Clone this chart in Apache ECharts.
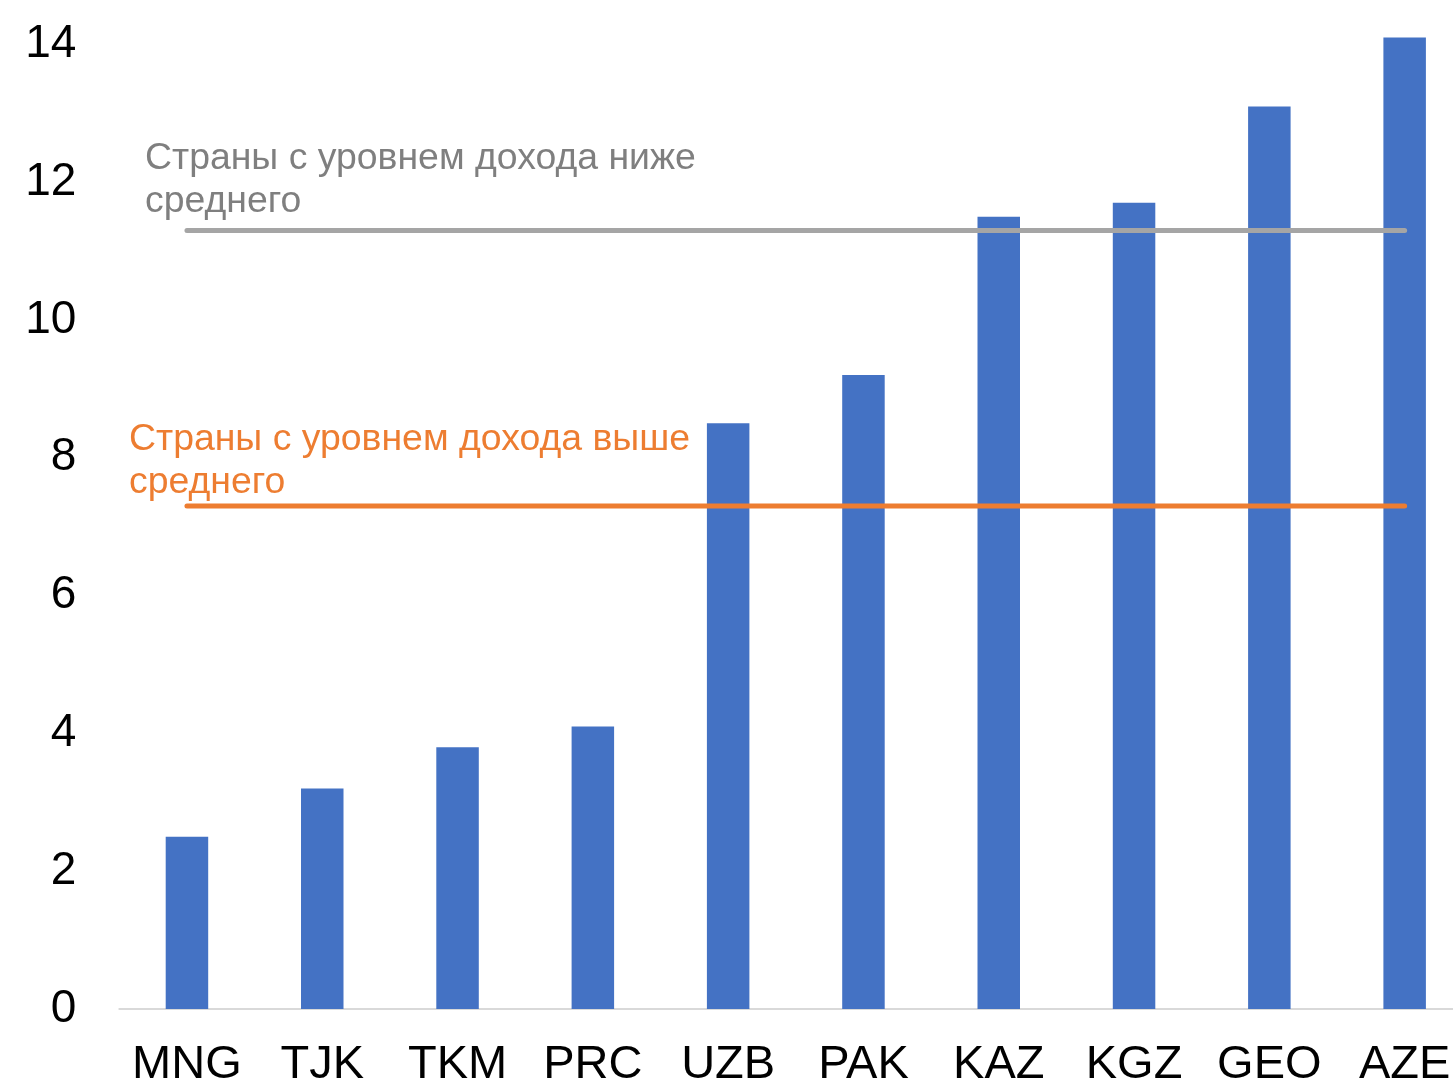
<!DOCTYPE html>
<html>
<head>
<meta charset="utf-8">
<script src="https://cdn.jsdelivr.net/npm/echarts@6/dist/echarts.min.js"></script>
<style>
html,body{margin:0;padding:0;overflow:hidden;background:#fff;width:1453px;height:1087px;}
#chart{position:absolute;left:0;top:-118px;width:1500px;height:1207px;}
</style>
</head>
<body>
<div id="chart"></div>
<script>
const categories = ['MNG','TJK','TKM','PRC','UZB','PAK','KAZ','KGZ','GEO','AZE'];
const values = [2.5, 3.2, 3.8, 4.1, 8.5, 9.2, 11.5, 11.7, 13.1, 14.1];
const lowerMiddleAvg = [11.3, 11.3, 11.3, 11.3, 11.3, 11.3, 11.3, 11.3, 11.3, 11.3];
const upperMiddleAvg = [7.3, 7.3, 7.3, 7.3, 7.3, 7.3, 7.3, 7.3, 7.3, 7.3];
const lowerLabel = 'Страны с уровнем дохода ниже\nсреднего';
const upperLabel = 'Страны с уровнем дохода выше\nсреднего';

const FONT = '"Liberation Sans", Arial, sans-serif';
const chart = echarts.init(document.getElementById('chart'), null, {renderer:'canvas'});
chart.setOption({
  animation: false,
  backgroundColor: '#ffffff',
  grid: {left: 119.3, right: 27.7, top: 24.6, bottom: 76},
  xAxis: {
    type: 'category',
    data: categories,
    axisLine: {show: true, lineStyle: {color: '#d9d9d9', width: 2}},
    axisTick: {show: false},
    axisLabel: {color: '#000', fontSize: 47, fontFamily: FONT, margin: 33, interval: 0}
  },
  yAxis: {
    type: 'value',
    min: 0, max: 16, interval: 2,
    axisLine: {show: false},
    axisTick: {show: false},
    splitLine: {show: false},
    axisLabel: {color: '#000', fontSize: 46, fontFamily: FONT, margin: 43}
  },
  series: [
    {
      type: 'bar',
      data: values,
      barWidth: 42.5,
      itemStyle: {color: '#4472c4'},
      z: 2
    },
    {
      type: 'line',
      data: lowerMiddleAvg,
      showSymbol: false,
      lineStyle: {color: '#a5a5a5', width: 5, cap: 'round'},
      z: 3
    },
    {
      type: 'line',
      data: upperMiddleAvg,
      showSymbol: false,
      lineStyle: {color: '#ed7d31', width: 5, cap: 'round'},
      z: 3
    }
  ],
  graphic: [
    {type:'text', left: 145, top: 255, z: 10,
     style:{text: lowerLabel, fill:'#7f7f7f', font: '37.4px ' + FONT, lineHeight: 43}},
    {type:'text', left: 129, top: 536, z: 10,
     style:{text: upperLabel, fill:'#ed7d31', font: '37.4px ' + FONT, lineHeight: 43}}
  ]
});
</script>
</body>
</html>
